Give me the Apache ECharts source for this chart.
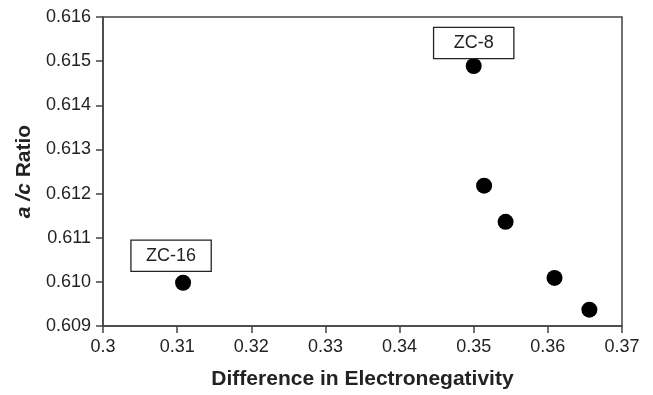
<!DOCTYPE html>
<html><head><meta charset="utf-8">
<script src="https://cdn.jsdelivr.net/npm/echarts@6/dist/echarts.min.js"></script>
<style>html,body{margin:0;padding:0;background:#fff}#c{width:653px;height:395px}</style>
</head><body><div id="c"></div>
<script>
const xValues = [0.3108, 0.3500, 0.3514, 0.3543, 0.3609, 0.3656];
const yValues = [0.60998, 0.61489, 0.61218, 0.61136, 0.61009, 0.60937];
const pointLabels = ['ZC-16', 'ZC-8', '', '', '', ''];
const xTicks = [0.3, 0.31, 0.32, 0.33, 0.34, 0.35, 0.36, 0.37];
const yTicks = [0.609, 0.610, 0.611, 0.612, 0.613, 0.614, 0.615, 0.616];

const FONT = '"Liberation Sans", Arial, sans-serif';
const data = xValues.map((x, i) => {
  const d = { value: [x, yValues[i]] };
  if (pointLabels[i]) {
    d.label = {
      show: true, formatter: pointLabels[i], position: 'top',
      distance: i === 0 ? 4 : 0, offset: i === 0 ? [-12, 0] : [0, 0],
      width: 79, height: 30, lineHeight: 30, align: 'center',
      backgroundColor: '#fff', borderColor: '#222', borderWidth: 1.3,
      color: '#222', fontSize: 18, fontFamily: FONT
    };
  }
  return d;
});

const chart = echarts.init(document.getElementById('c'));
chart.setOption({
  animation: false,
  grid: { left: 103, right: 31, top: 17, bottom: 69, show: true, borderColor: '#444', borderWidth: 1.5 },
  xAxis: {
    type: 'value', min: 0.3, max: 0.37, interval: 0.01,
    name: 'Difference in Electronegativity', nameLocation: 'middle', nameGap: 43,
    nameTextStyle: { fontSize: 21, fontWeight: 'bold', color: '#222', fontFamily: FONT },
    axisLine: { show: true, lineStyle: { color: '#444', width: 1.5 } },
    axisTick: { show: true, length: 7, lineStyle: { color: '#444', width: 1.5 } },
    splitLine: { show: false },
    axisLabel: { fontSize: 18, color: '#222', fontFamily: FONT, margin: 12,
      formatter: v => { const t = xTicks.find(k => Math.abs(k - v) < 1e-9); return t === undefined ? '' : String(t); } }
  },
  yAxis: {
    type: 'value', min: 0.609, max: 0.616, interval: 0.001,
    name: '{i|a /c} Ratio', nameLocation: 'middle', nameGap: 61,
    nameTextStyle: { fontSize: 21, fontWeight: 'bold', color: '#222', fontFamily: FONT,
      rich: { i: { fontStyle: 'italic', fontWeight: 'bold', fontSize: 21, color: '#222', fontFamily: FONT } } },
    axisLine: { show: true, lineStyle: { color: '#444', width: 1.5 } },
    axisTick: { show: true, length: 7, lineStyle: { color: '#444', width: 1.5 } },
    splitLine: { show: false },
    axisLabel: { fontSize: 18, color: '#222', fontFamily: FONT, margin: 12,
      formatter: v => { const t = yTicks.find(k => Math.abs(k - v) < 1e-9); return t === undefined ? '' : t.toFixed(3); } }
  },
  series: [{
    type: 'scatter', symbol: 'circle', symbolSize: 16,
    itemStyle: { color: '#000', opacity: 1 },
    data: data
  }]
});
</script></body></html>
